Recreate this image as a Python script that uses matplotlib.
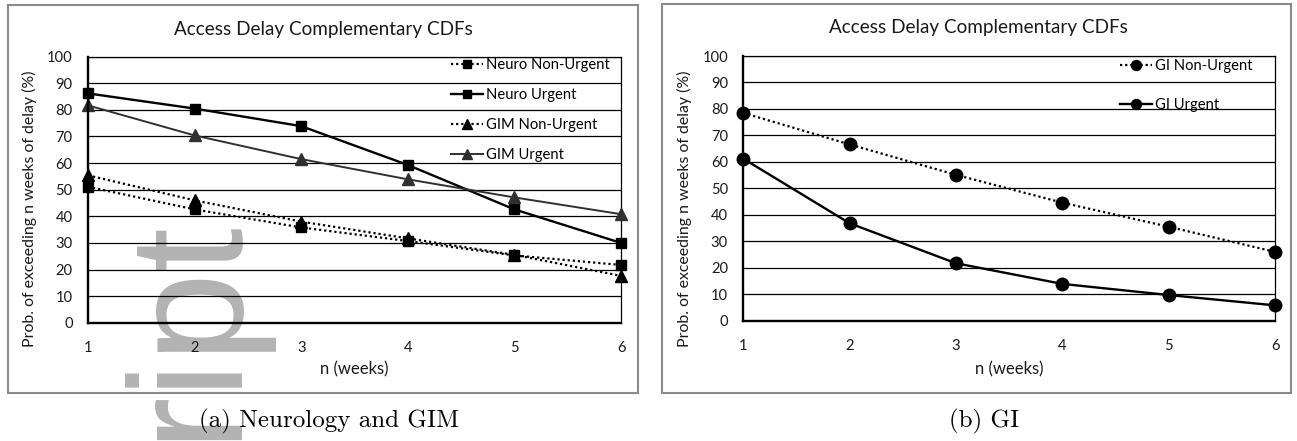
import matplotlib
matplotlib.use("Agg")
import matplotlib.pyplot as plt
from matplotlib.patches import Rectangle

# ---- data ----
weeks = [1, 2, 3, 4, 5, 6]
neuro_non_urgent = [51.1, 42.6, 35.8, 30.7, 25.3, 21.7]
neuro_urgent = [86.2, 80.5, 73.9, 59.3, 42.6, 30.0]
gim_non_urgent = [55.4, 46.0, 38.0, 31.7, 25.5, 17.6]
gim_urgent = [81.7, 70.4, 61.5, 53.9, 47.1, 40.8]
gi_non_urgent = [78.5, 66.6, 55.1, 44.6, 35.5, 26.0]
gi_urgent = [61.2, 36.8, 21.7, 13.9, 9.7, 5.8]

title_text = "Access Delay Complementary CDFs"
xlabel_text = "n (weeks)"
ylabel_text = "Prob. of exceeding n weeks of delay (%)"
caption_a = "(a) Neurology and GIM"
caption_b = "(b) GI"
yticks = list(range(0, 101, 10))

W, H = 1297, 441
fig = plt.figure(figsize=(W / 100, H / 100), dpi=100)
plt.rcParams['font.family'] = ['Lato', 'DejaVu Sans']

def fx(px):
    return px / W

def fy(py):
    return 1 - py / H

dotted = (0, (1.0, 1.3))

def style_axes(ax):
    ax.set_facecolor('none')
    ax.set_xlim(1, 6)
    ax.set_ylim(0, 100)
    ax.set_xticks(weeks)
    ax.set_yticks(yticks)
    ax.tick_params(axis='both', length=0, labelsize=10.6, colors='#1a1a1a')
    ax.tick_params(axis='x', pad=13)
    ax.tick_params(axis='y', pad=11)
    ax.grid(axis='y', color='black', linewidth=0.9)
    ax.set_axisbelow(True)
    for side in ['top', 'right']:
        ax.spines[side].set_linewidth(0.9)
        ax.spines[side].set_color('black')
    for side in ['left', 'bottom']:
        ax.spines[side].set_linewidth(1.7)
        ax.spines[side].set_color('black')
        ax.spines[side].set_zorder(5)
    ax.set_xlabel(xlabel_text, fontsize=12, color='#1a1a1a')
    ax.set_ylabel(ylabel_text, fontsize=11.4, color='#1a1a1a')

# outer boxes
fig.patches.append(Rectangle((fx(7.5), fy(392.7)), fx(638.3 - 7.5), (392.7 - 4.5) / H,
                             transform=fig.transFigure, fill=False,
                             edgecolor='#8a8a8a', linewidth=1.5, zorder=-2))
fig.patches.append(Rectangle((fx(661.7), fy(392.7)), fx(1291 - 661.7), (392.7 - 3.5) / H,
                             transform=fig.transFigure, fill=False,
                             edgecolor='#8a8a8a', linewidth=1.5, zorder=-2))

# watermark fragment
fig.text(fx(232), fy(216), "ript", rotation=90, rotation_mode='anchor',
         ha='right', va='baseline', fontsize=116, family='Liberation Sans',
         color='#b3b3b3', zorder=-1)

# ---- left panel ----
ax1 = fig.add_axes([fx(88), fy(322.7), fx(621 - 88), (322.7 - 56.7) / H])
style_axes(ax1)
ax1.plot(weeks, neuro_non_urgent, color='black', linestyle=dotted, linewidth=1.6,
         marker='s', markersize=7.5, clip_on=False, label='Neuro Non-Urgent', zorder=3)
ax1.plot(weeks, neuro_urgent, color='black', linestyle='-', linewidth=1.7,
         marker='s', markersize=7.5, clip_on=False, label='Neuro Urgent', zorder=3)
ax1.plot(weeks, gim_non_urgent, color='black', linestyle=dotted, linewidth=1.6,
         marker='^', markersize=8, clip_on=False, label='GIM Non-Urgent', zorder=3)
ax1.plot(weeks, gim_urgent, color='#303030', linestyle='-', linewidth=1.4,
         marker='^', markersize=8, clip_on=False, label='GIM Urgent', zorder=3)
ax1.yaxis.set_label_coords((37 - 88) / 533, 1 - (209 - 56.7) / 266)
ax1.xaxis.set_label_coords(0.5, -(369 - 322.7) / 266)
ax1.xaxis.label.set_va('center')
ax1.legend(loc='upper left', bbox_to_anchor=((448 - 88) / 533, 1.005),
           frameon=False, fontsize=10.6, handlelength=2.2, handletextpad=0.2,
           labelspacing=1.08, markerscale=0.85, borderaxespad=0.0,
           borderpad=0.2)
fig.text(fx(323), fy(29), title_text, ha='center', va='center', fontsize=13.6,
         color='#1a1a1a')
fig.text(fx(329), fy(421), caption_a, ha='center', va='center', fontsize=18,
         family='cmr10', color='black')

# ---- right panel ----
ax2 = fig.add_axes([fx(743.3), fy(320.7), fx(1275 - 743.3), (320.7 - 56) / H])
style_axes(ax2)
ax2.plot(weeks, gi_non_urgent, color='black', linestyle=dotted, linewidth=1.6,
         marker='o', markersize=9, clip_on=False, label='GI Non-Urgent', zorder=3)
ax2.plot(weeks, gi_urgent, color='black', linestyle='-', linewidth=1.7,
         marker='o', markersize=9, clip_on=False, label='GI Urgent', zorder=3)
ax2.yaxis.set_label_coords((692 - 743.3) / 531.7, 1 - (209 - 56) / 264.7)
ax2.xaxis.set_label_coords(0.5, -(369 - 320.7) / 264.7)
ax2.xaxis.label.set_va('center')
ax2.legend(loc='upper left', bbox_to_anchor=((1117 - 743.3) / 531.7, 1.0),
           frameon=False, fontsize=10.6, handlelength=2.2, handletextpad=0.2,
           labelspacing=1.7, markerscale=0.8, borderaxespad=0.0,
           borderpad=0.2)
fig.text(fx(978), fy(27), title_text, ha='center', va='center', fontsize=13.6,
         color='#1a1a1a')
fig.text(fx(984), fy(421), caption_b, ha='center', va='center', fontsize=18,
         family='cmr10', color='black')

fig.savefig("out.png", dpi=100)
